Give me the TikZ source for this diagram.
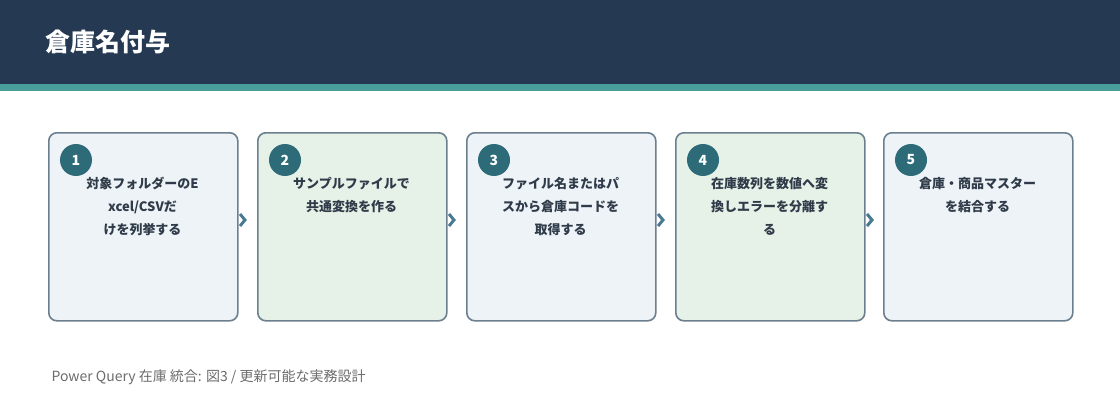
\documentclass[tikz,border=0pt]{standalone}
\usepackage{fontspec}
\setmainfont{Noto Sans CJK JP}
\newfontfamily\cjkb{Noto Sans CJK JP}[BoldFont={* Bold}]
\definecolor{hdr}{HTML}{253A52}
\definecolor{tealstrip}{HTML}{4A9E9A}
\definecolor{bord}{HTML}{6B7F8F}
\definecolor{fblue}{HTML}{EEF3F8}
\definecolor{fgreen}{HTML}{E6F1E8}
\definecolor{circ}{HTML}{2E6B78}
\definecolor{arr}{HTML}{4A7A90}
\definecolor{txt}{HTML}{2F3B48}
\definecolor{foot}{HTML}{6B6B6B}
\begin{document}
\begin{tikzpicture}[x=1pt,y=-1pt,
  box/.style={draw=bord,line width=1.6pt,rounded corners=8pt,minimum width=189pt,minimum height=188pt,anchor=north west,inner sep=0pt},
  num/.style={circle,fill=circ,minimum size=32pt,inner sep=0pt,text=white,font=\bfseries\fontsize{14}{14}\selectfont},
  lab/.style={anchor=north,align=center,text=txt,font=\bfseries\fontsize{13}{23}\selectfont},
  chev/.style={draw=arr,line width=3pt,line cap=butt,line join=miter}]
\useasboundingbox (0,0) rectangle (1120,420);
\fill[hdr] (0,0) rectangle (1120,84);
\fill[tealstrip] (0,84) rectangle (1120,91);
\node[anchor=west,text=white,font=\bfseries\fontsize{25}{25}\selectfont] (title) at (42,42) {倉庫名付与};
\foreach \i/\x/\f/\t in {1/48/fblue/{対象フォルダーのE\\xcel/CSVだ\\けを列挙する},
  2/257/fgreen/{サンプルファイルで\\共通変換を作る},
  3/466/fblue/{ファイル名またはパ\\スから倉庫コードを\\取得する},
  4/675/fgreen/{在庫数列を数値へ変\\換しエラーを分離す\\る},
  5/883/fblue/{倉庫・商品マスター\\を結合する}}{
  \node[box,fill=\f] (b\i) at (\x,132) {};
  \node[num] (n\i) at (\x+28,160) {\i};
  \node[lab] (t\i) at (\x+94.5,174) {\t};
}
\foreach \x in {240,449,658,867}{
  \draw[chev] (\x,214) -- (\x+5,220) -- (\x,226);
}
\node[anchor=west,text=foot,font=\fontsize{14}{14}\selectfont] (footer) at (48,377) {Power Query 在庫 統合: 図3 / 更新可能な実務設計};
\end{tikzpicture}
\end{document}
